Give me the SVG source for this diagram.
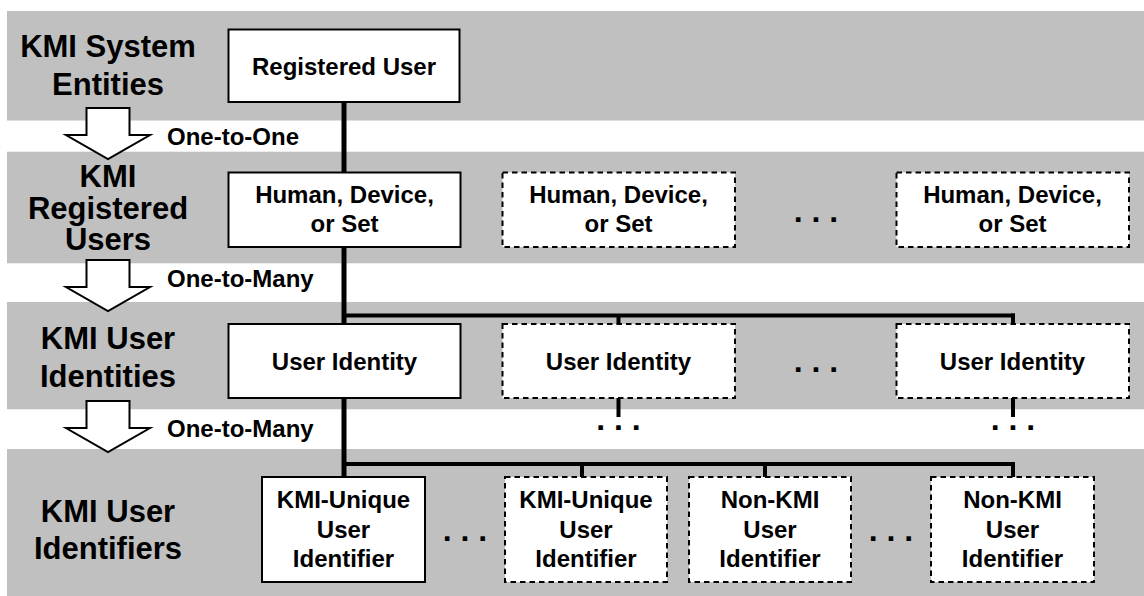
<svg xmlns="http://www.w3.org/2000/svg" width="1144" height="596" viewBox="0 0 1144 596">
  <style>
    .band { fill: #c0c0c0; }
    .node rect { fill: #ffffff; stroke: #000000; stroke-width: 2; }
    .node.extra rect { stroke-dasharray: 5.5 4; }
    text { font-family: "Liberation Sans", Arial, Helvetica, sans-serif; font-weight: bold; fill: #000000; }
    .head { font-size: 31px; text-anchor: middle; }
    .lbl { font-size: 24px; text-anchor: middle; }
    .rel { font-size: 24px; text-anchor: start; }
    .dots { font-size: 32px; text-anchor: middle; }
    .trunk { stroke: #000000; stroke-width: 5; fill: none; }
    .bar { stroke: #000000; stroke-width: 4; fill: none; }
    .tick { stroke: #000000; stroke-width: 4; fill: none; }
    .flow { fill: #ffffff; stroke: #000000; stroke-width: 2; stroke-linejoin: miter; }
  </style>
  <defs>
    <!-- hollow block arrow, origin at the top centre of the shaft -->
    <path id="downArrow" class="flow" d="M -21.5,0 H 21.5 V 27 H 42 L 0,51 L -42,27 H -21.5 Z"/>
  </defs>

  <!-- layer bands -->
  <g id="bands">
    <rect class="band" x="7" y="11" width="1137" height="109.5"/>
    <rect class="band" x="7" y="151.7" width="1137" height="111.6"/>
    <rect class="band" x="7" y="302" width="1137" height="107.3"/>
    <rect class="band" x="7" y="449" width="1137" height="147"/>
  </g>

  <!-- layer titles -->
  <g id="layer-titles">
    <text class="head" x="108" y="57">KMI System</text>
    <text class="head" x="108" y="95">Entities</text>
    <text class="head" x="108" y="187">KMI</text>
    <text class="head" x="108" y="218.5">Registered</text>
    <text class="head" x="108" y="249.5">Users</text>
    <text class="head" x="108" y="348.5">KMI User</text>
    <text class="head" x="108" y="387">Identities</text>
    <text class="head" x="108" y="522">KMI User</text>
    <text class="head" x="108" y="558.5">Identifiers</text>
  </g>

  <!-- cardinality arrows between layers -->
  <g id="relations">
    <use href="#downArrow" x="108" y="108"/>
    <text class="rel" x="167" y="145">One-to-One</text>
    <use href="#downArrow" x="108" y="260"/>
    <text class="rel" x="167" y="287">One-to-Many</text>
    <use href="#downArrow" x="108" y="401"/>
    <text class="rel" x="167" y="437">One-to-Many</text>
  </g>

  <!-- connectors -->
  <g id="connectors">
    <line class="trunk" x1="344" y1="102" x2="344" y2="477"/>
    <!-- identities bus -->
    <line class="bar" x1="344" y1="315.5" x2="1015" y2="315.5"/>
    <line class="tick" x1="618.5" y1="315.5" x2="618.5" y2="324"/>
    <line class="tick" x1="1013" y1="313.5" x2="1013" y2="324"/>
    <line class="tick" x1="618.5" y1="398" x2="618.5" y2="417"/>
    <line class="tick" x1="1013" y1="398" x2="1013" y2="417"/>
    <!-- identifiers bus -->
    <line class="bar" x1="344" y1="464" x2="1015" y2="464"/>
    <line class="tick" x1="582" y1="464" x2="582" y2="477"/>
    <line class="tick" x1="765" y1="464" x2="765" y2="477"/>
    <line class="tick" x1="1013" y1="462" x2="1013" y2="477"/>
  </g>

  <!-- continuation marks -->
  <g id="ellipses">
    <text class="dots" x="816" y="222">. . .</text>
    <text class="dots" x="816" y="372">. . .</text>
    <text class="dots" x="618.5" y="430">. . .</text>
    <text class="dots" x="1013" y="430">. . .</text>
    <text class="dots" x="465" y="541">. . .</text>
    <text class="dots" x="891" y="541">. . .</text>
  </g>

  <g id="registered-user" class="node">
    <rect x="228.5" y="29.5" width="231" height="72.5"/>
    <text class="lbl" x="344" y="75">Registered User</text>
  </g>

  <g id="registered-user-1" class="node">
    <rect x="228.5" y="172.5" width="232" height="74.5"/>
    <text class="lbl" x="344.5" y="203">Human, Device,</text>
    <text class="lbl" x="344.5" y="232">or Set</text>
  </g>
  <g id="registered-user-2" class="node extra">
    <rect x="502.5" y="172.5" width="232.5" height="74.5"/>
    <text class="lbl" x="618.5" y="203">Human, Device,</text>
    <text class="lbl" x="618.5" y="232">or Set</text>
  </g>
  <g id="registered-user-n" class="node extra">
    <rect x="896.5" y="172.5" width="232.5" height="74.5"/>
    <text class="lbl" x="1012.5" y="203">Human, Device,</text>
    <text class="lbl" x="1012.5" y="232">or Set</text>
  </g>

  <g id="user-identity-1" class="node">
    <rect x="228.5" y="324" width="232" height="74"/>
    <text class="lbl" x="344.5" y="370">User Identity</text>
  </g>
  <g id="user-identity-2" class="node extra">
    <rect x="502.5" y="324" width="232.5" height="74"/>
    <text class="lbl" x="618.5" y="370">User Identity</text>
  </g>
  <g id="user-identity-n" class="node extra">
    <rect x="896.5" y="324" width="232.5" height="74"/>
    <text class="lbl" x="1012.5" y="370">User Identity</text>
  </g>

  <g id="kmi-unique-identifier-1" class="node">
    <rect x="262" y="477" width="163" height="105"/>
    <text class="lbl" x="343.5" y="508">KMI-Unique</text>
    <text class="lbl" x="343.5" y="538">User</text>
    <text class="lbl" x="343.5" y="567">Identifier</text>
  </g>
  <g id="kmi-unique-identifier-2" class="node extra">
    <rect x="505" y="477" width="162" height="105"/>
    <text class="lbl" x="586" y="508">KMI-Unique</text>
    <text class="lbl" x="586" y="538">User</text>
    <text class="lbl" x="586" y="567">Identifier</text>
  </g>
  <g id="non-kmi-identifier-1" class="node extra">
    <rect x="689" y="477" width="162" height="105"/>
    <text class="lbl" x="770" y="508">Non-KMI</text>
    <text class="lbl" x="770" y="538">User</text>
    <text class="lbl" x="770" y="567">Identifier</text>
  </g>
  <g id="non-kmi-identifier-n" class="node extra">
    <rect x="931" y="477" width="163" height="105"/>
    <text class="lbl" x="1012.5" y="508">Non-KMI</text>
    <text class="lbl" x="1012.5" y="538">User</text>
    <text class="lbl" x="1012.5" y="567">Identifier</text>
  </g>
</svg>
